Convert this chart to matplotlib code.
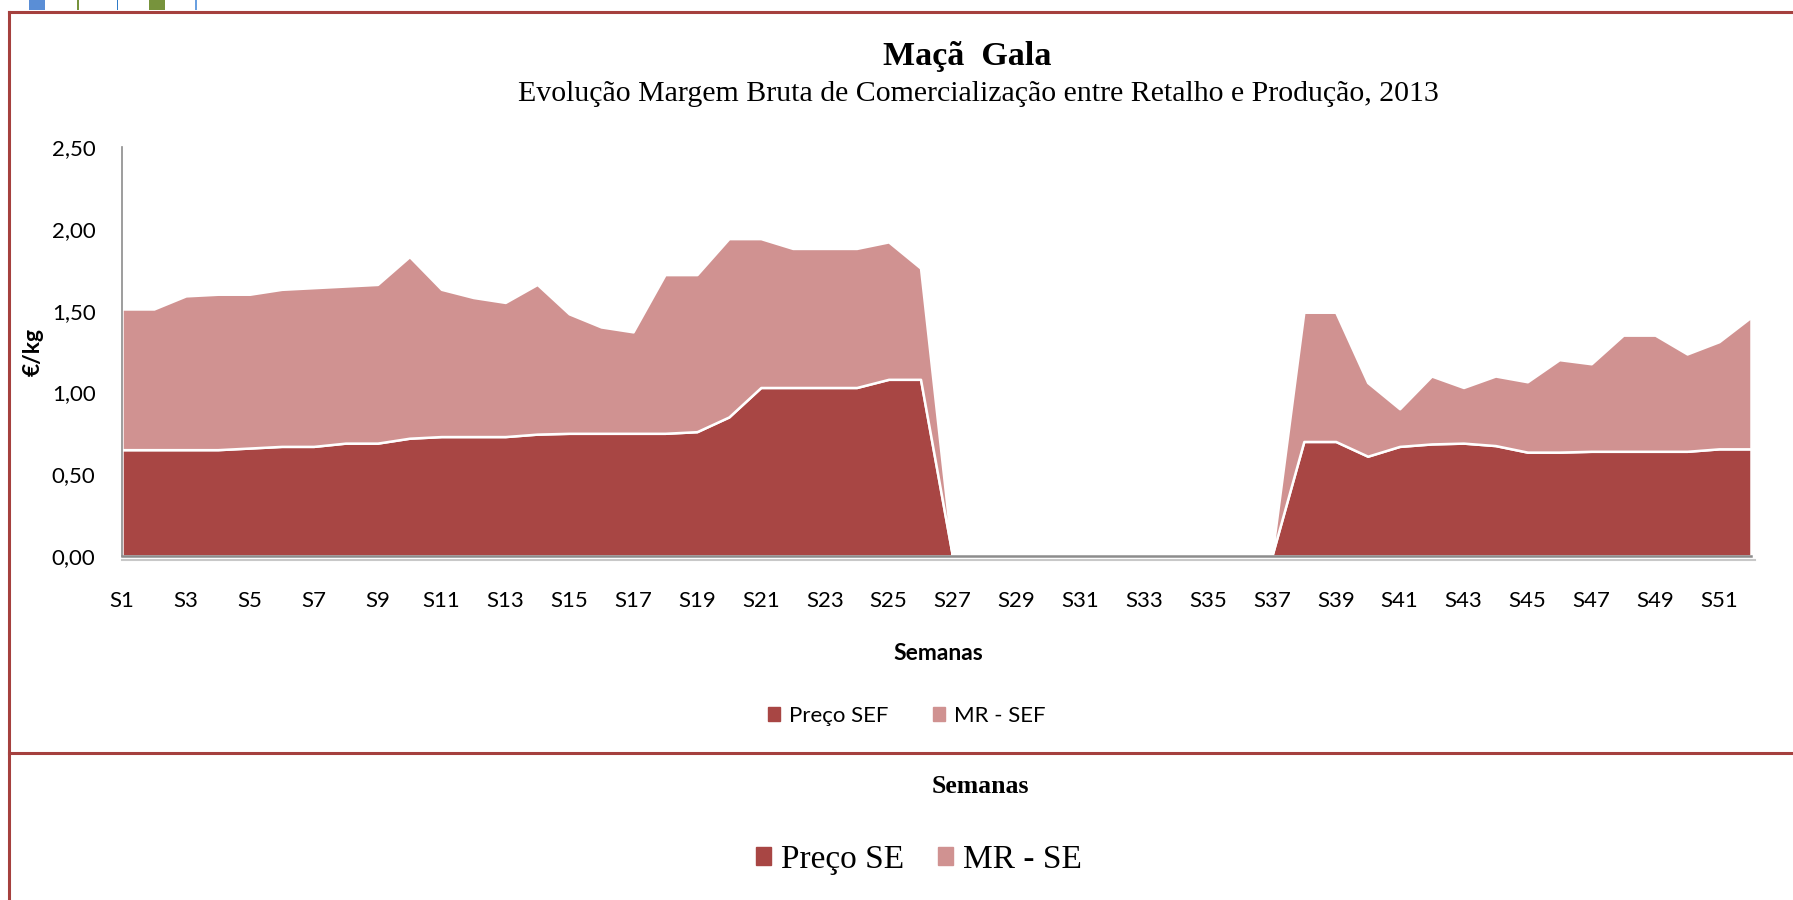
import matplotlib.pyplot as plt
from matplotlib.lines import Line2D
from matplotlib.patches import Patch, Rectangle


# weekly values (€/kg)
weeks = list(range(1, 53))
week_labels = [f"S{w}" for w in weeks]
preco_sef = [
    0.65, 0.65, 0.65, 0.65, 0.66, 0.67, 0.67, 0.69, 0.69, 0.72,
    0.73, 0.73, 0.73, 0.745, 0.75, 0.75, 0.75, 0.75, 0.76, 0.85,
    1.03, 1.03, 1.03, 1.03, 1.08, 1.08, 0.0, 0.0, 0.0, 0.0,
    0.0, 0.0, 0.0, 0.0, 0.0, 0.0, 0.0, 0.70, 0.70, 0.61,
    0.67, 0.685, 0.69, 0.675, 0.635, 0.635, 0.64, 0.64, 0.64, 0.64,
    0.655, 0.655,
]
mr_sef = [
    0.86, 0.86, 0.94, 0.95, 0.94, 0.96, 0.97, 0.96, 0.97, 1.11,
    0.90, 0.85, 0.82, 0.915, 0.73, 0.65, 0.62, 0.97, 0.96, 1.09,
    0.91, 0.85, 0.85, 0.85, 0.84, 0.68, 0.0, 0.0, 0.0, 0.0,
    0.0, 0.0, 0.0, 0.0, 0.0, 0.0, 0.0, 0.79, 0.79, 0.45,
    0.23, 0.415, 0.34, 0.425, 0.43, 0.565, 0.535, 0.71, 0.71, 0.595,
    0.655, 0.805,
]
y_ticks = [0.0, 0.5, 1.0, 1.5, 2.0, 2.5]

DARK = "#A84644"
LIGHT = "#D09291"
FRAME = "#A5403E"
W, H = 1793, 900

SANS = ["Lato", "DejaVu Sans"]
SERIF = ["Liberation Serif", "DejaVu Serif"]


def fx(px):
    return px / W


def fy(py):
    return 1 - py / H


fig = plt.figure(figsize=(W / 100, H / 100), dpi=100)
fig.patch.set_facecolor("white")

# frame of the chart sheet and the bits of toolbar above it
for x0, y0, x1, y1 in [(9, 11.5, W, 11.5), (9, 752.5, W, 752.5), (9, 11.5, 9, H)]:
    fig.add_artist(Line2D([fx(x0), fx(x1)], [fy(y0), fy(y1)], color=FRAME, lw=2.2))
for x0, wd, col in [(29, 16, "#5A8ED6"), (76.5, 2, "#77933C"), (116.5, 2, "#2F7BC7"),
                    (149, 16, "#77933C"), (195, 2, "#6AA0E0")]:
    fig.add_artist(Rectangle((fx(x0), fy(10)), wd / W, 10 / H, color=col, lw=0))

ax = fig.add_axes([fx(122), fy(556), fx(1751) - fx(122), fy(147) - fy(556)])
ax.stackplot(weeks, preco_sef, mr_sef, colors=[DARK, LIGHT],
             edgecolor="white", linewidth=1.8)

ax.set_xlim(1, 52)
ax.set_ylim(0, 2.5)
ax.set_xticks(weeks[::2])
ax.set_xticklabels(week_labels[::2], fontfamily=SANS, fontsize=16)
ax.set_yticks(y_ticks)
ax.set_yticklabels([f"{v:.2f}".replace(".", ",") for v in y_ticks],
                   fontfamily=SANS, fontsize=16)
ax.tick_params(axis="x", length=0, pad=25)
ax.tick_params(axis="y", length=0, pad=19)
for side in ["top", "right"]:
    ax.spines[side].set_visible(False)
ax.spines["left"].set_color("#8C8C8C")
ax.spines["left"].set_linewidth(1.2)
ax.spines["bottom"].set_color("#8C8C8C")
ax.spines["bottom"].set_linewidth(1.8)
ax.spines["left"].set_bounds(0, 2.5)
fig.add_artist(Line2D([fx(122), fx(1755)], [fy(560), fy(560)], color="#C8C8C8", lw=1.5))

# titles
fig.text(fx(967), fy(65), "Maçã  Gala", ha="center", va="baseline",
         fontfamily=SERIF, fontweight="bold", fontsize=24.5)
fig.text(fx(978), fy(101), "Evolução Margem Bruta de Comercialização entre Retalho e Produção, 2013",
         ha="center", va="baseline", fontfamily=SERIF, fontsize=21.5)

fig.text(fx(938), fy(660), "Semanas", ha="center", va="baseline",
         fontfamily=SANS, fontweight="bold", fontsize=16.5)
fig.text(fx(33), fy(352), "€/kg", ha="center", va="center", rotation=90,
         fontfamily=SANS, fontweight="bold", fontsize=16.5)

fig.legend(handles=[Patch(color=DARK, label="Preço SEF"), Patch(color=LIGHT, label="MR - SEF")],
           loc="center", bbox_to_anchor=(fx(907), fy(716)), ncol=2, frameon=False,
           prop={"family": SANS, "size": 16}, handlelength=0.55, handleheight=0.55,
           handletextpad=0.4, columnspacing=2.0, borderpad=0)

# second chart peeking in below the frame
fig.text(fx(980), fy(793), "Semanas", ha="center", va="baseline",
         fontfamily=SERIF, fontweight="bold", fontsize=18.5)
fig.legend(handles=[Patch(color=DARK, label="Preço SE"), Patch(color=LIGHT, label="MR - SE")],
           loc="center", bbox_to_anchor=(fx(919), fy(860)), ncol=2, frameon=False,
           prop={"family": SERIF, "size": 24}, handlelength=0.45, handleheight=0.45,
           handletextpad=0.3, columnspacing=1.0, borderpad=0)

fig.savefig("out.png", dpi=100, facecolor="white")
